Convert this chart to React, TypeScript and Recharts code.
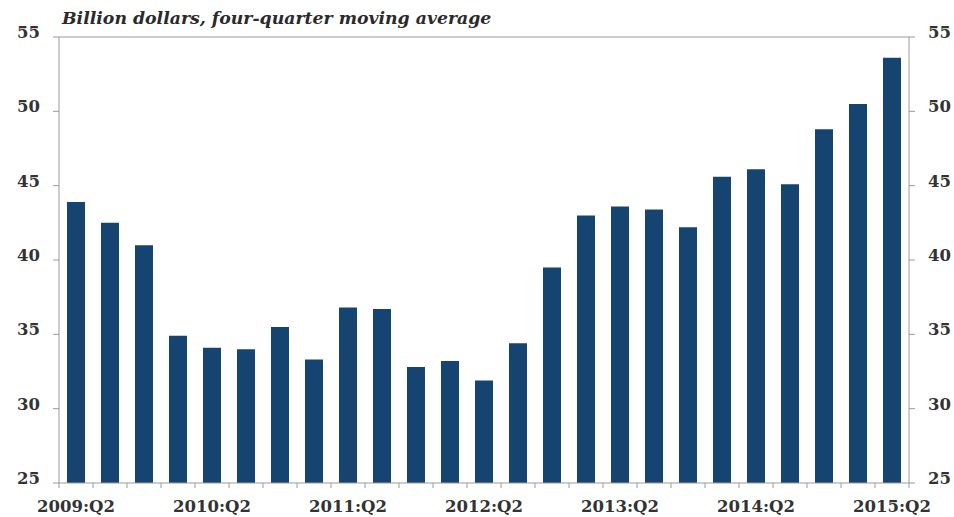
import React from 'react';
import { BarChart, Bar, XAxis, YAxis, ReferenceLine } from 'recharts';

const quarters = [
  '2009:Q2', '2009:Q3', '2009:Q4',
  '2010:Q1', '2010:Q2', '2010:Q3', '2010:Q4',
  '2011:Q1', '2011:Q2', '2011:Q3', '2011:Q4',
  '2012:Q1', '2012:Q2', '2012:Q3', '2012:Q4',
  '2013:Q1', '2013:Q2', '2013:Q3', '2013:Q4',
  '2014:Q1', '2014:Q2', '2014:Q3', '2014:Q4',
  '2015:Q1', '2015:Q2',
];
const billions = [
  43.9, 42.5, 41.0, 34.9, 34.1, 34.0, 35.5, 33.3, 36.8, 36.7, 32.8, 33.2, 31.9,
  34.4, 39.5, 43.0, 43.6, 43.4, 42.2, 45.6, 46.1, 45.1, 48.8, 50.5, 53.6,
];
const yTicks = [25, 30, 35, 40, 45, 50, 55];
const title = 'Billion dollars, four-quarter moving average';

const data = quarters.map((q, i) => ({ q, v: billions[i] }));

const AXIS = '#9a9a9a';
const FONT = '"DejaVu Serif", serif';
const TEXT = '#333333';

function XTick(props: any) {
  const { x, y, payload, index, visibleTicksCount } = props;
  const half = payload && typeof payload.offset === 'number' && payload.offset > 0 ? payload.offset : 17;
  const label = String(payload.value);
  const show = label.endsWith('Q2');
  return (
    <g>
      <line x1={x - half} x2={x - half} y1={y} y2={y + 5} stroke={AXIS} />
      {index === visibleTicksCount - 1 && (
        <line x1={x + half} x2={x + half} y1={y} y2={y + 5} stroke={AXIS} />
      )}
      {show && (
        <text x={x} y={y + 29} textAnchor="middle" fill={TEXT} fontFamily={FONT} fontWeight="bold" fontSize={16.5}>
          {label}
        </text>
      )}
    </g>
  );
}

function YTick(props: any) {
  const { x, y, payload, textAnchor } = props;
  return (
    <text x={x} y={y + 1} textAnchor={textAnchor} fill={TEXT} fontFamily={FONT} fontWeight="bold" fontSize={16.5}>
      {payload.value}
    </text>
  );
}

export default function App() {
  return (
    <div style={{ position: 'absolute', left: 0, top: 0, width: 954, height: 517, background: '#fff' }}>
      <div
        style={{
          position: 'absolute',
          left: 62,
          top: 10,
          fontFamily: FONT,
          fontStyle: 'italic',
          fontWeight: 'bold',
          fontSize: 17.3,
          lineHeight: '17px',
          color: '#2a2a2a',
          whiteSpace: 'nowrap',
        }}
      >
        {title}
      </div>
      <BarChart
        width={954}
        height={517}
        data={data}
        margin={{ top: 37, right: 0, left: 0, bottom: 0 }}
        barCategoryGap="23.5%"
      >
        <XAxis
          dataKey="q"
          interval={0}
          height={34}
          tickSize={0}
          tickMargin={0}
          tickLine={false}
          axisLine={{ stroke: AXIS }}
          tick={<XTick />}
        />
        <YAxis
          yAxisId="left"
          orientation="left"
          width={59}
          domain={[25, 55]}
          ticks={yTicks}
          interval={0}
          allowDataOverflow
          tickSize={6}
          tickMargin={13}
          axisLine={{ stroke: AXIS }}
          tickLine={{ stroke: AXIS }}
          tick={<YTick />}
        />
        <YAxis
          yAxisId="right"
          orientation="right"
          width={45}
          domain={[25, 55]}
          ticks={yTicks}
          interval={0}
          allowDataOverflow
          tickSize={6}
          tickMargin={13}
          axisLine={{ stroke: AXIS }}
          tickLine={{ stroke: AXIS }}
          tick={<YTick />}
        />
        <ReferenceLine yAxisId="left" y={55} stroke={AXIS} />
        <Bar yAxisId="left" dataKey="v" fill="#164470" isAnimationActive={false} />
      </BarChart>
    </div>
  );
}
